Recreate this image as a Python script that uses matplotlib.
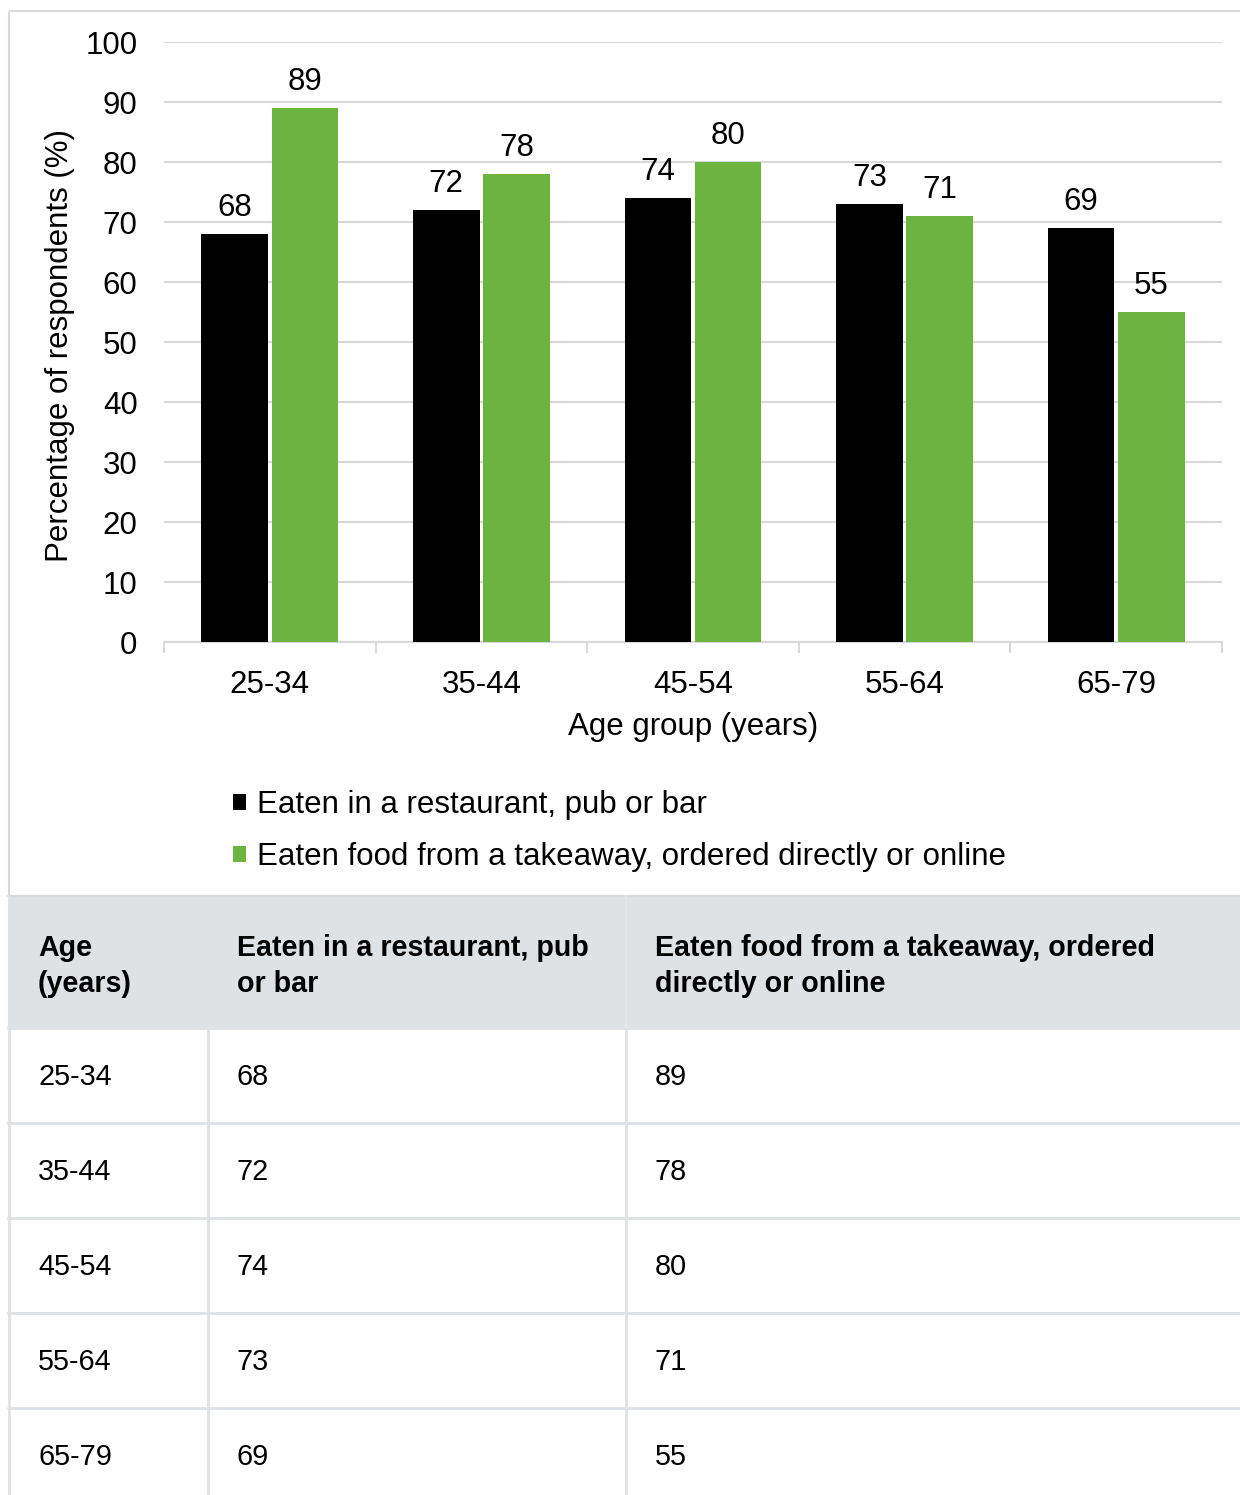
import matplotlib
matplotlib.use("Agg")
import matplotlib.pyplot as plt
from matplotlib.patches import Rectangle
from matplotlib.lines import Line2D

plt.rcParams['font.family'] = ['Liberation Sans', 'DejaVu Sans']

age_groups = ["25-34", "35-44", "45-54", "55-64", "65-79"]
restaurant = [68, 72, 74, 73, 69]
takeaway = [89, 78, 80, 71, 55]
series_names = ["Eaten in a restaurant, pub or bar",
                "Eaten food from a takeaway, ordered directly or online"]
table_headers = ["Age\n(years)", "Eaten in a restaurant, pub\nor bar",
                 "Eaten food from a takeaway, ordered\ndirectly or online"]
y_ticks = [0, 10, 20, 30, 40, 50, 60, 70, 80, 90, 100]

BLACK = "#000000"
GREEN = "#6db33f"
GRID = "#d9d9d9"
FS = 22.5

W, H = 1240, 1495
fig = plt.figure(figsize=(W / 100, H / 100), dpi=100)

# background axes in pixel coordinates
bg = fig.add_axes([0, 0, 1, 1])
bg.set_xlim(0, W)
bg.set_ylim(H, 0)
bg.axis("off")

# chart border
bg.add_patch(Rectangle((8.5, 10.5), W + 5, 885, fill=False, edgecolor="#d9d9d9", lw=1.5))

# chart axes
L, R, T, B = 164, 1222, 42, 642
ax = fig.add_axes([L / W, (H - B) / H, (R - L) / W, (B - T) / H])
x = list(range(len(age_groups)))
bw = 0.315
off = 0.166
b1 = ax.bar([i - off for i in x], restaurant, bw, color=BLACK, zorder=3, label=series_names[0])
b2 = ax.bar([i + off for i in x], takeaway, bw, color=GREEN, zorder=3, label=series_names[1])
for bars, vals in ((b1, restaurant), (b2, takeaway)):
    for rect, v in zip(bars, vals):
        ax.annotate(f"{v}", (rect.get_x() + rect.get_width() / 2, v),
                    xytext=(0, 8), textcoords="offset points",
                    ha="center", va="bottom", fontsize=FS)
ax.set_xlim(-0.5, len(age_groups) - 0.5)
ax.set_ylim(0, 100)
ax.set_yticks(y_ticks)
ax.set_yticklabels([str(t) for t in y_ticks], fontsize=FS)
ax.tick_params(axis="y", length=0, pad=19)
ax.set_xticks(x)
ax.set_xticklabels(age_groups, fontsize=FS)
ax.set_xticks([i - 0.5 for i in range(len(age_groups) + 1)], minor=True)
ax.tick_params(axis="x", which="major", length=0, pad=20.5)
ax.tick_params(axis="x", which="minor", length=8, width=1.5, color=GRID)
ax.grid(axis="y", color=GRID, lw=1.5, zorder=0)
for s in ("top", "right", "left"):
    ax.spines[s].set_visible(False)
ax.spines["bottom"].set_color(GRID)
ax.spines["bottom"].set_linewidth(1.5)
ax.set_facecolor("none")

fig.text(60 / W, 1 - 346 / H, "Percentage of respondents (%)", rotation=90,
         ha="center", va="center", fontsize=FS)
fig.text(693 / W, 1 - 727 / H, "Age group (years)", ha="center", va="center", fontsize=FS)

fig.legend(handles=[b1, b2], labels=series_names, loc="upper left",
           bbox_to_anchor=(233 / W, 1 - 790 / H), frameon=False, fontsize=FS,
           handlelength=0.4, handleheight=0.4, handletextpad=0.36, labelspacing=0.72,
           borderpad=0, borderaxespad=0)

# table
col_x = [8, 207, 625]
head_top, head_bot = 896, 1028
row_h = 95
bg.add_patch(Rectangle((8, head_top), W - 8 + 5, head_bot - head_top, facecolor="#dfe2e5",
                       edgecolor="none"))
LINE = "#dee2e6"
for k in range(len(age_groups)):
    yline = head_bot + k * row_h
    bg.add_line(Line2D([8, W], [yline, yline], color=LINE, lw=2))
bg.add_line(Line2D([8, W], [head_top, head_top], color="#d9d9d9", lw=1.5))
for cx in col_x:
    bg.add_line(Line2D([cx + 0.5, cx + 0.5], [head_bot, H], color=LINE, lw=2))
bg.add_line(Line2D([8.5, 8.5], [head_top, head_bot], color=LINE, lw=1.5))
bg.add_line(Line2D([625.5, 625.5], [head_top, head_bot], color="#e4e6e9", lw=1.5))

text_x = [38, 237, 655]
for tx, hdr in zip(text_x, table_headers):
    bg.text(tx, (head_top + head_bot) / 2 + 4, hdr, ha="left", va="center", fontsize=20.6,
            fontweight="bold", linespacing=1.32)
for k, (g, r, t) in enumerate(zip(age_groups, restaurant, takeaway)):
    cy = head_bot + k * row_h + row_h / 2 + 1.5
    for tx, val in zip(text_x, (g, str(r), str(t))):
        bg.text(tx, cy, val, ha="left", va="center", fontsize=20.8)

fig.savefig("out.png", dpi=100)
